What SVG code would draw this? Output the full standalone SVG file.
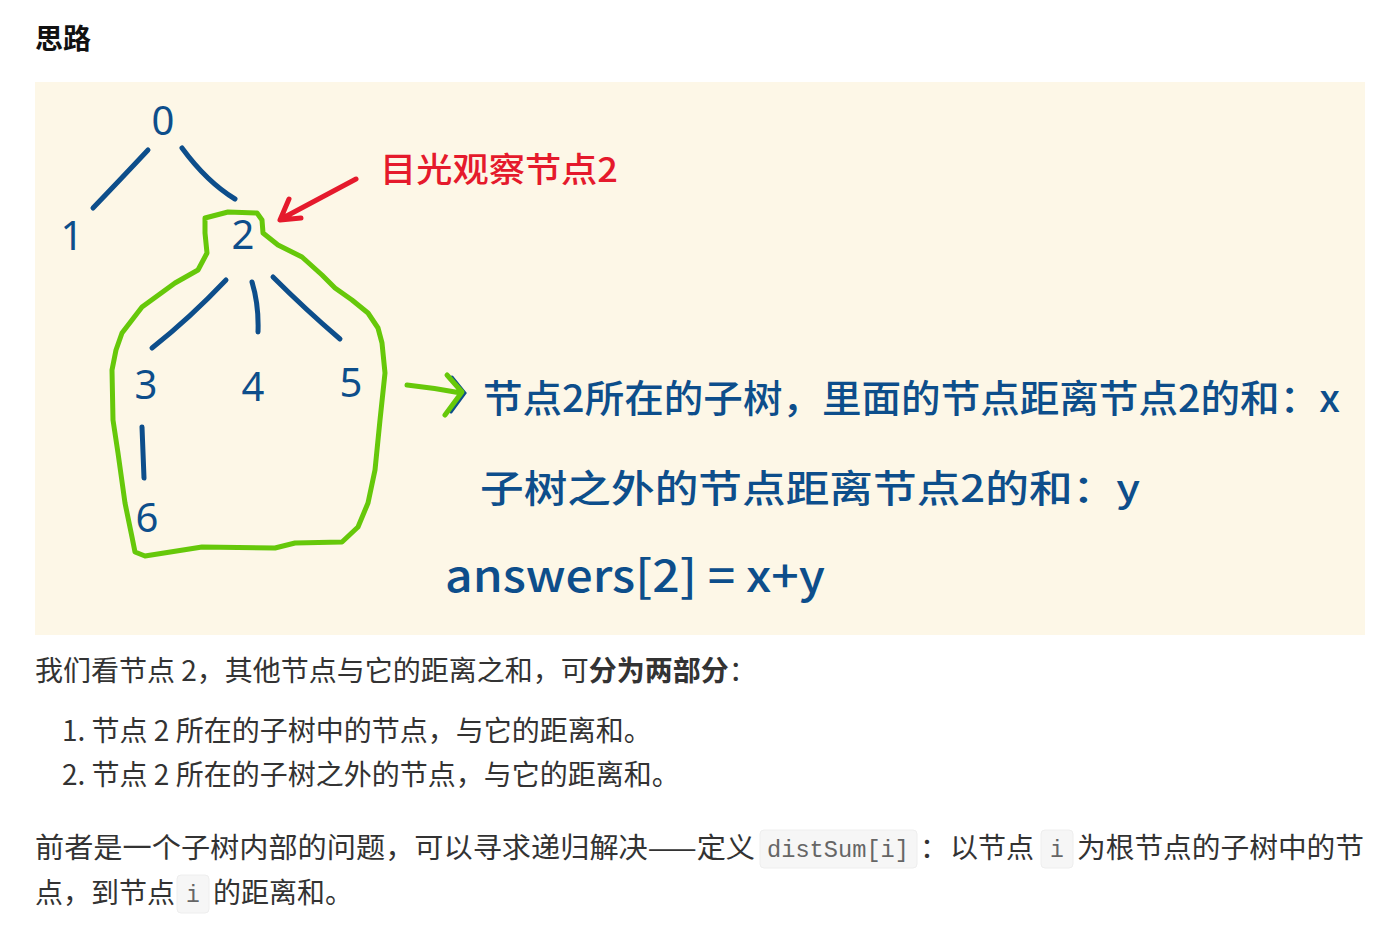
<svg xmlns="http://www.w3.org/2000/svg" width="1388" height="930" viewBox="0 0 1388 930">
<style>
.ink{fill:none;stroke:#0D4E8B;stroke-width:5;stroke-linecap:round;stroke-linejoin:round}
.num{font-family:"Noto Sans","Liberation Sans",sans-serif;font-size:40px;fill:#0D4E8B;text-anchor:middle}
.hand{font-family:"Noto Sans CJK SC","Noto Sans",sans-serif;fill:#0D4E8B;font-weight:500}
.body{font-family:"Noto Sans CJK SC","Liberation Sans",sans-serif;font-size:28px;fill:#333333}
.code{font-family:"Liberation Mono",monospace;font-size:23px;fill:#666666}
.codebg{fill:#F6F6F6;stroke:#EEEEEE;stroke-width:1}
</style>
<rect width="1388" height="930" fill="#FFFFFF"/>
<text x="35" y="49" style="font-family:'Noto Sans CJK SC',sans-serif;font-size:28px;font-weight:bold;fill:#111">思路</text>
<rect x="35" y="82" width="1330" height="553" fill="#FDF7E7"/>

<g id="connectors">
  <path class="ink" d="M148,150 Q118,182 93,208"/>
  <path class="ink" d="M182,148 Q207,182 235,199"/>
  <path class="ink" d="M226,280 Q190,318 152,348"/>
  <path class="ink" d="M252,282 Q259,305 258,332"/>
  <path class="ink" d="M273,277 Q306,310 340,339"/>
  <path class="ink" d="M142,427 L144,478"/>
</g>

<g id="subtree-outline">
  <path fill="none" stroke="#66C80A" stroke-width="5" stroke-linecap="round" stroke-linejoin="round" d="M205,218 L228,212 L257,213 L262,220 L263,233 L278,245 L302,257 L322,275 L335,288 L352,300 L368,313 L378,328 L382,343 L385,373 L380,420 L375,470 L368,503 L358,527 L342,542 L295,543 L275,548 L202,547 L145,556 L135,552 L132,537 L125,503 L118,453 L113,420 L112,370 L116,350 L122,333 L142,307 L175,283 L198,270 L207,253 L205,233 Z"/>
</g>

<g id="node-0"><text class="num" x="163" y="135">0</text></g>
<g id="node-1"><text class="num" x="72" y="250">1</text></g>
<g id="node-2"><text class="num" x="243" y="249">2</text></g>
<g id="node-3"><text class="num" x="146" y="399">3</text></g>
<g id="node-4"><text class="num" x="253" y="401">4</text></g>
<g id="node-5"><text class="num" x="351" y="397">5</text></g>
<g id="node-6"><text class="num" x="147" y="532">6</text></g>

<g id="red-note">
  <path fill="none" stroke="#E51A2C" stroke-width="5" stroke-linecap="round" stroke-linejoin="round" d="M356,179 L281,219 M289,199 L280,220 L301,218"/>
  <text x="380" y="182" textLength="238" lengthAdjust="spacingAndGlyphs" style="font-family:'Noto Sans CJK SC',sans-serif;font-size:34px;font-weight:500;fill:#E51A2C">目光观察节点2</text>
</g>

<g id="green-arrow">
  <path fill="none" stroke="#0D4E8B" stroke-width="3" stroke-linecap="round" d="M452,377 L465,393 L451,412"/>
  <path fill="none" stroke="#66C80A" stroke-width="5" stroke-linecap="round" stroke-linejoin="round" d="M407,385 Q435,388 461,393 M447,375 L462,392 L445,415"/>
</g>

<g id="notes">
  <text class="hand" x="483" y="412" font-size="38" textLength="857" lengthAdjust="spacingAndGlyphs">节点2所在的子树，里面的节点距离节点2的和：x</text>
  <text class="hand" x="480" y="502" font-size="38" textLength="660" lengthAdjust="spacingAndGlyphs">子树之外的节点距离节点2的和：y</text>
  <text class="hand" x="445" y="592" font-size="44" textLength="380" lengthAdjust="spacingAndGlyphs">answers[2] = x+y</text>
</g>

<g id="body-text">
  <text class="body" x="35" y="681">我们看节点 2，其他节点与它的距离之和，可<tspan font-weight="bold">分为两部分</tspan>：</text>
  <text class="body" x="62" y="741">1. 节点 2 所在的子树中的节点，与它的距离和。</text>
  <text class="body" x="62" y="785">2. 节点 2 所在的子树之外的节点，与它的距离和。</text>
  <text class="body" x="35" y="858" textLength="720" lengthAdjust="spacingAndGlyphs">前者是一个子树内部的问题，可以寻求递归解决——定义</text>
  <rect class="codebg" x="760" y="830" width="157" height="38" rx="4"/>
  <text class="code" x="767" y="857" textLength="142" lengthAdjust="spacingAndGlyphs">distSum[i]</text>
  <text class="body" x="920" y="858">：</text>
  <text class="body" x="950" y="858">以节点</text>
  <rect class="codebg" x="1041" y="830" width="32" height="38" rx="4"/>
  <text class="code" x="1050" y="857">i</text>
  <text class="body" x="1077" y="858" textLength="287" lengthAdjust="spacingAndGlyphs">为根节点的子树中的节</text>
  <text class="body" x="35" y="903">点，到节点</text>
  <rect class="codebg" x="177" y="875" width="32" height="38" rx="4"/>
  <text class="code" x="186" y="902">i</text>
  <text class="body" x="213" y="903">的距离和。</text>
</g>
</svg>
